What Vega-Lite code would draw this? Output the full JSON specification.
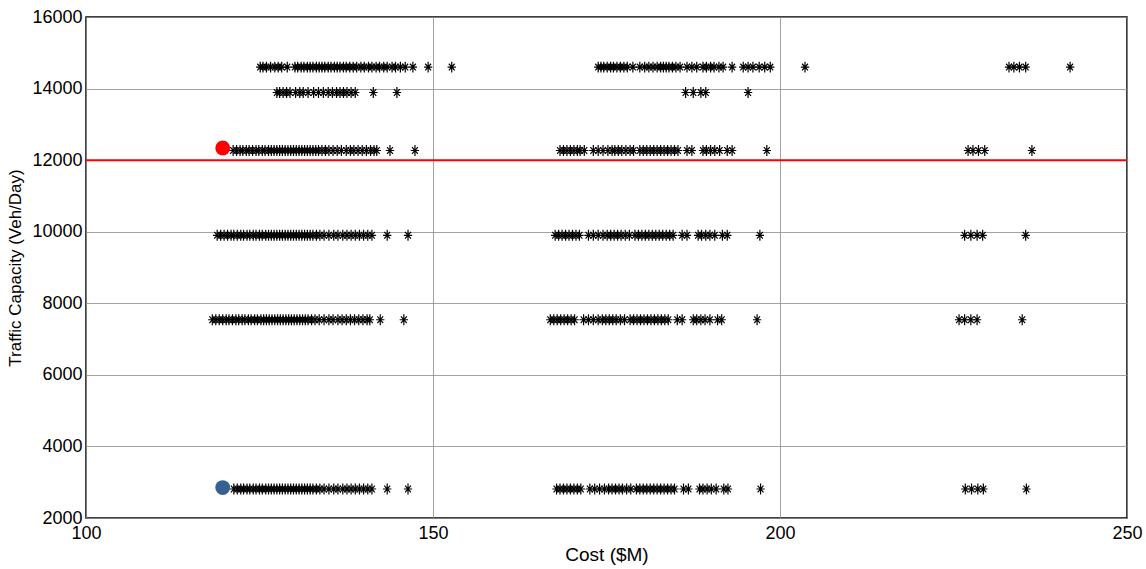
{
  "$schema": "https://vega.github.io/schema/vega-lite/v6.json",
  "width": 1041,
  "height": 501,
  "autosize": "none",
  "padding": {"left": 86, "top": 17, "right": 19, "bottom": 51},
  "background": "white",
  "config": {"view": {"stroke": "black", "strokeWidth": 1.5}, "font": "Liberation Sans, Arial, sans-serif"},
  "datasets": {
    "stars": [
      {"c":125.1,"t":14600},{"c":125.5,"t":14600},{"c":126.0,"t":14600},{"c":126.6,"t":14600},{"c":127.2,"t":14600},{"c":127.7,"t":14600},{"c":128.2,"t":14600},{"c":129.0,"t":14600},{"c":130.1,"t":14600},{"c":130.5,"t":14600},{"c":131.0,"t":14600},{"c":131.4,"t":14600},{"c":131.9,"t":14600},{"c":132.3,"t":14600},{"c":132.7,"t":14600},{"c":133.2,"t":14600},{"c":133.6,"t":14600},{"c":134.0,"t":14600},{"c":134.4,"t":14600},{"c":134.9,"t":14600},{"c":135.3,"t":14600},{"c":135.8,"t":14600},{"c":136.2,"t":14600},{"c":136.6,"t":14600},{"c":137.1,"t":14600},{"c":137.5,"t":14600},{"c":138.0,"t":14600},{"c":138.5,"t":14600},{"c":139.0,"t":14600},{"c":139.6,"t":14600},{"c":140.1,"t":14600},{"c":140.7,"t":14600},{"c":141.2,"t":14600},{"c":141.8,"t":14600},{"c":142.3,"t":14600},{"c":142.9,"t":14600},{"c":143.4,"t":14600},{"c":144.1,"t":14600},{"c":144.6,"t":14600},{"c":145.3,"t":14600},{"c":146.0,"t":14600},{"c":147.1,"t":14600},{"c":149.3,"t":14600},{"c":152.7,"t":14600},
      {"c":173.8,"t":14600},{"c":174.2,"t":14600},{"c":174.6,"t":14600},{"c":175.1,"t":14600},{"c":175.6,"t":14600},{"c":176.0,"t":14600},{"c":176.5,"t":14600},{"c":177.0,"t":14600},{"c":177.5,"t":14600},{"c":178.0,"t":14600},{"c":178.8,"t":14600},{"c":179.8,"t":14600},{"c":180.5,"t":14600},{"c":181.1,"t":14600},{"c":181.7,"t":14600},{"c":182.3,"t":14600},{"c":182.8,"t":14600},{"c":183.2,"t":14600},{"c":183.6,"t":14600},{"c":184.0,"t":14600},{"c":184.5,"t":14600},{"c":185.0,"t":14600},{"c":185.6,"t":14600},{"c":186.6,"t":14600},{"c":187.3,"t":14600},{"c":188.0,"t":14600},{"c":188.9,"t":14600},{"c":189.4,"t":14600},{"c":190.0,"t":14600},{"c":190.5,"t":14600},{"c":191.2,"t":14600},{"c":191.8,"t":14600},{"c":193.1,"t":14600},{"c":194.7,"t":14600},{"c":195.4,"t":14600},{"c":196.1,"t":14600},{"c":197.0,"t":14600},{"c":197.8,"t":14600},{"c":198.6,"t":14600},{"c":203.6,"t":14600},
      {"c":233.0,"t":14600},{"c":233.7,"t":14600},{"c":234.5,"t":14600},{"c":235.4,"t":14600},{"c":241.8,"t":14600},
      {"c":127.5,"t":13890},{"c":127.9,"t":13890},{"c":128.4,"t":13890},{"c":128.9,"t":13890},{"c":129.4,"t":13890},{"c":130.2,"t":13890},{"c":130.8,"t":13890},{"c":131.3,"t":13890},{"c":132.0,"t":13890},{"c":132.8,"t":13890},{"c":133.5,"t":13890},{"c":134.2,"t":13890},{"c":134.9,"t":13890},{"c":135.5,"t":13890},{"c":136.1,"t":13890},{"c":136.6,"t":13890},{"c":137.1,"t":13890},{"c":137.6,"t":13890},{"c":138.2,"t":13890},{"c":138.8,"t":13890},{"c":141.4,"t":13890},{"c":144.8,"t":13890},
      {"c":186.4,"t":13890},{"c":187.5,"t":13890},{"c":188.6,"t":13890},{"c":189.3,"t":13890},{"c":195.4,"t":13890},
      {"c":121.2,"t":12270},{"c":121.7,"t":12270},{"c":122.2,"t":12270},{"c":122.6,"t":12270},{"c":123.1,"t":12270},{"c":123.5,"t":12270},{"c":124.0,"t":12270},{"c":124.5,"t":12270},{"c":124.9,"t":12270},{"c":125.4,"t":12270},{"c":125.8,"t":12270},{"c":126.3,"t":12270},{"c":126.7,"t":12270},{"c":127.1,"t":12270},{"c":127.5,"t":12270},{"c":127.9,"t":12270},{"c":128.3,"t":12270},{"c":128.7,"t":12270},{"c":129.1,"t":12270},{"c":129.5,"t":12270},{"c":129.9,"t":12270},{"c":130.3,"t":12270},{"c":130.7,"t":12270},{"c":131.1,"t":12270},{"c":131.5,"t":12270},{"c":131.9,"t":12270},{"c":132.3,"t":12270},{"c":132.7,"t":12270},{"c":133.1,"t":12270},{"c":133.5,"t":12270},{"c":134.0,"t":12270},{"c":134.5,"t":12270},{"c":135.0,"t":12270},{"c":135.6,"t":12270},{"c":136.2,"t":12270},{"c":136.8,"t":12270},{"c":137.5,"t":12270},{"c":138.1,"t":12270},{"c":138.6,"t":12270},{"c":139.2,"t":12270},{"c":139.8,"t":12270},{"c":140.4,"t":12270},{"c":141.0,"t":12270},{"c":141.5,"t":12270},{"c":141.9,"t":12270},{"c":143.8,"t":12270},{"c":147.4,"t":12270},
      {"c":168.3,"t":12270},{"c":168.8,"t":12270},{"c":169.3,"t":12270},{"c":169.8,"t":12270},{"c":170.3,"t":12270},{"c":170.8,"t":12270},{"c":171.2,"t":12270},{"c":171.8,"t":12270},{"c":173.1,"t":12270},{"c":173.8,"t":12270},{"c":174.5,"t":12270},{"c":175.2,"t":12270},{"c":175.8,"t":12270},{"c":176.2,"t":12270},{"c":176.7,"t":12270},{"c":177.2,"t":12270},{"c":177.8,"t":12270},{"c":178.4,"t":12270},{"c":178.9,"t":12270},{"c":179.8,"t":12270},{"c":180.3,"t":12270},{"c":180.8,"t":12270},{"c":181.3,"t":12270},{"c":181.8,"t":12270},{"c":182.3,"t":12270},{"c":182.8,"t":12270},{"c":183.3,"t":12270},{"c":183.8,"t":12270},{"c":184.3,"t":12270},{"c":184.8,"t":12270},{"c":185.3,"t":12270},{"c":186.6,"t":12270},{"c":187.3,"t":12270},{"c":188.9,"t":12270},{"c":189.4,"t":12270},{"c":190.0,"t":12270},{"c":190.6,"t":12270},{"c":191.3,"t":12270},{"c":192.4,"t":12270},{"c":193.1,"t":12270},{"c":198.1,"t":12270},
      {"c":227.1,"t":12270},{"c":227.8,"t":12270},{"c":228.6,"t":12270},{"c":229.5,"t":12270},{"c":236.3,"t":12270},
      {"c":118.9,"t":9900},{"c":119.4,"t":9900},{"c":119.9,"t":9900},{"c":120.4,"t":9900},{"c":120.9,"t":9900},{"c":121.3,"t":9900},{"c":121.8,"t":9900},{"c":122.3,"t":9900},{"c":122.7,"t":9900},{"c":123.2,"t":9900},{"c":123.6,"t":9900},{"c":124.1,"t":9900},{"c":124.5,"t":9900},{"c":125.0,"t":9900},{"c":125.4,"t":9900},{"c":125.9,"t":9900},{"c":126.3,"t":9900},{"c":126.7,"t":9900},{"c":127.1,"t":9900},{"c":127.5,"t":9900},{"c":127.9,"t":9900},{"c":128.3,"t":9900},{"c":128.7,"t":9900},{"c":129.1,"t":9900},{"c":129.5,"t":9900},{"c":129.9,"t":9900},{"c":130.3,"t":9900},{"c":130.7,"t":9900},{"c":131.1,"t":9900},{"c":131.5,"t":9900},{"c":131.9,"t":9900},{"c":132.3,"t":9900},{"c":132.7,"t":9900},{"c":133.2,"t":9900},{"c":133.7,"t":9900},{"c":134.3,"t":9900},{"c":135.0,"t":9900},{"c":135.7,"t":9900},{"c":136.3,"t":9900},{"c":137.0,"t":9900},{"c":137.6,"t":9900},{"c":138.2,"t":9900},{"c":138.8,"t":9900},{"c":139.4,"t":9900},{"c":140.0,"t":9900},{"c":140.6,"t":9900},{"c":141.2,"t":9900},{"c":143.4,"t":9900},{"c":146.4,"t":9900},
      {"c":167.6,"t":9900},{"c":168.1,"t":9900},{"c":168.6,"t":9900},{"c":169.1,"t":9900},{"c":169.6,"t":9900},{"c":170.1,"t":9900},{"c":170.6,"t":9900},{"c":171.1,"t":9900},{"c":172.4,"t":9900},{"c":173.1,"t":9900},{"c":173.8,"t":9900},{"c":174.5,"t":9900},{"c":175.1,"t":9900},{"c":175.6,"t":9900},{"c":176.1,"t":9900},{"c":176.6,"t":9900},{"c":177.1,"t":9900},{"c":177.7,"t":9900},{"c":178.3,"t":9900},{"c":179.1,"t":9900},{"c":179.6,"t":9900},{"c":180.1,"t":9900},{"c":180.6,"t":9900},{"c":181.1,"t":9900},{"c":181.6,"t":9900},{"c":182.1,"t":9900},{"c":182.6,"t":9900},{"c":183.1,"t":9900},{"c":183.6,"t":9900},{"c":184.1,"t":9900},{"c":184.6,"t":9900},{"c":185.9,"t":9900},{"c":186.6,"t":9900},{"c":188.2,"t":9900},{"c":188.7,"t":9900},{"c":189.3,"t":9900},{"c":189.9,"t":9900},{"c":190.6,"t":9900},{"c":191.7,"t":9900},{"c":192.4,"t":9900},{"c":197.1,"t":9900},
      {"c":226.6,"t":9900},{"c":227.5,"t":9900},{"c":228.4,"t":9900},{"c":229.2,"t":9900},{"c":235.4,"t":9900},
      {"c":118.2,"t":7540},{"c":118.7,"t":7540},{"c":119.2,"t":7540},{"c":119.7,"t":7540},{"c":120.2,"t":7540},{"c":120.6,"t":7540},{"c":121.1,"t":7540},{"c":121.6,"t":7540},{"c":122.0,"t":7540},{"c":122.5,"t":7540},{"c":122.9,"t":7540},{"c":123.4,"t":7540},{"c":123.8,"t":7540},{"c":124.3,"t":7540},{"c":124.7,"t":7540},{"c":125.2,"t":7540},{"c":125.6,"t":7540},{"c":126.0,"t":7540},{"c":126.4,"t":7540},{"c":126.8,"t":7540},{"c":127.2,"t":7540},{"c":127.6,"t":7540},{"c":128.0,"t":7540},{"c":128.4,"t":7540},{"c":128.8,"t":7540},{"c":129.2,"t":7540},{"c":129.6,"t":7540},{"c":130.0,"t":7540},{"c":130.4,"t":7540},{"c":130.8,"t":7540},{"c":131.2,"t":7540},{"c":131.6,"t":7540},{"c":132.0,"t":7540},{"c":132.5,"t":7540},{"c":133.0,"t":7540},{"c":133.6,"t":7540},{"c":134.3,"t":7540},{"c":135.0,"t":7540},{"c":135.6,"t":7540},{"c":136.3,"t":7540},{"c":136.9,"t":7540},{"c":137.5,"t":7540},{"c":138.1,"t":7540},{"c":138.7,"t":7540},{"c":139.3,"t":7540},{"c":139.9,"t":7540},{"c":140.5,"t":7540},{"c":140.9,"t":7540},{"c":142.4,"t":7540},{"c":145.8,"t":7540},
      {"c":166.9,"t":7540},{"c":167.4,"t":7540},{"c":167.9,"t":7540},{"c":168.4,"t":7540},{"c":168.9,"t":7540},{"c":169.4,"t":7540},{"c":169.9,"t":7540},{"c":170.4,"t":7540},{"c":171.7,"t":7540},{"c":172.4,"t":7540},{"c":173.1,"t":7540},{"c":173.8,"t":7540},{"c":174.4,"t":7540},{"c":174.9,"t":7540},{"c":175.4,"t":7540},{"c":175.9,"t":7540},{"c":176.4,"t":7540},{"c":177.0,"t":7540},{"c":177.6,"t":7540},{"c":178.4,"t":7540},{"c":178.9,"t":7540},{"c":179.4,"t":7540},{"c":179.9,"t":7540},{"c":180.4,"t":7540},{"c":180.9,"t":7540},{"c":181.4,"t":7540},{"c":181.9,"t":7540},{"c":182.4,"t":7540},{"c":182.9,"t":7540},{"c":183.4,"t":7540},{"c":183.9,"t":7540},{"c":185.2,"t":7540},{"c":185.9,"t":7540},{"c":187.5,"t":7540},{"c":188.0,"t":7540},{"c":188.6,"t":7540},{"c":189.2,"t":7540},{"c":189.9,"t":7540},{"c":191.0,"t":7540},{"c":191.6,"t":7540},{"c":196.7,"t":7540},
      {"c":225.8,"t":7540},{"c":226.6,"t":7540},{"c":227.5,"t":7540},{"c":228.4,"t":7540},{"c":234.9,"t":7540},
      {"c":121.3,"t":2810},{"c":121.8,"t":2810},{"c":122.3,"t":2810},{"c":122.7,"t":2810},{"c":123.2,"t":2810},{"c":123.6,"t":2810},{"c":124.1,"t":2810},{"c":124.5,"t":2810},{"c":125.0,"t":2810},{"c":125.4,"t":2810},{"c":125.9,"t":2810},{"c":126.3,"t":2810},{"c":126.7,"t":2810},{"c":127.1,"t":2810},{"c":127.5,"t":2810},{"c":127.9,"t":2810},{"c":128.3,"t":2810},{"c":128.7,"t":2810},{"c":129.1,"t":2810},{"c":129.5,"t":2810},{"c":129.9,"t":2810},{"c":130.3,"t":2810},{"c":130.7,"t":2810},{"c":131.1,"t":2810},{"c":131.5,"t":2810},{"c":131.9,"t":2810},{"c":132.3,"t":2810},{"c":132.7,"t":2810},{"c":133.2,"t":2810},{"c":133.7,"t":2810},{"c":134.3,"t":2810},{"c":135.0,"t":2810},{"c":135.7,"t":2810},{"c":136.3,"t":2810},{"c":137.0,"t":2810},{"c":137.6,"t":2810},{"c":138.2,"t":2810},{"c":138.8,"t":2810},{"c":139.4,"t":2810},{"c":140.0,"t":2810},{"c":140.6,"t":2810},{"c":141.2,"t":2810},{"c":143.4,"t":2810},{"c":146.4,"t":2810},
      {"c":167.8,"t":2810},{"c":168.3,"t":2810},{"c":168.8,"t":2810},{"c":169.3,"t":2810},{"c":169.8,"t":2810},{"c":170.3,"t":2810},{"c":170.8,"t":2810},{"c":171.3,"t":2810},{"c":172.6,"t":2810},{"c":173.3,"t":2810},{"c":174.0,"t":2810},{"c":174.7,"t":2810},{"c":175.3,"t":2810},{"c":175.8,"t":2810},{"c":176.3,"t":2810},{"c":176.8,"t":2810},{"c":177.3,"t":2810},{"c":177.9,"t":2810},{"c":178.5,"t":2810},{"c":179.3,"t":2810},{"c":179.8,"t":2810},{"c":180.3,"t":2810},{"c":180.8,"t":2810},{"c":181.3,"t":2810},{"c":181.8,"t":2810},{"c":182.3,"t":2810},{"c":182.8,"t":2810},{"c":183.3,"t":2810},{"c":183.8,"t":2810},{"c":184.3,"t":2810},{"c":184.8,"t":2810},{"c":186.1,"t":2810},{"c":186.8,"t":2810},{"c":188.4,"t":2810},{"c":188.9,"t":2810},{"c":189.5,"t":2810},{"c":190.1,"t":2810},{"c":190.8,"t":2810},{"c":191.9,"t":2810},{"c":192.5,"t":2810},{"c":197.2,"t":2810},
      {"c":226.7,"t":2810},{"c":227.6,"t":2810},{"c":228.5,"t":2810},{"c":229.3,"t":2810},{"c":235.5,"t":2810}
    ],
    "opt": [
      {"c":119.7,"t":12340,"k":"red"},
      {"c":119.7,"t":2850,"k":"blue"}
    ],
    "lim": [{"t":12000}]
  },
  "layer": [
    {
      "data": {"name": "stars"},
      "mark": {"type": "point", "shape": "M-1,0L1,0M0,-1.3L0,1.3M-0.7,-0.8L0.7,0.8M-0.7,0.8L0.7,-0.8", "stroke": "black", "strokeWidth": 1.2, "size": 70, "filled": false, "opacity": 1},
      "encoding": {
        "x": {"field": "c", "type": "quantitative", "scale": {"domain": [100, 250], "nice": false, "zero": false},
          "axis": {"title": "Cost ($M)", "values": [100, 150, 200, 250], "grid": true, "gridColor": "#8c8c8c", "gridWidth": 0.8, "ticks": false, "domain": false,
            "labelFont": "Liberation Sans, Arial, sans-serif", "labelFontSize": 18, "labelColor": "black", "labelPadding": 6, "labelFlush": false,
            "titleFont": "Liberation Sans, Arial, sans-serif", "titleFontSize": 19, "titleFontWeight": "normal", "titleColor": "black", "titlePadding": 3}},
        "y": {"field": "t", "type": "quantitative", "scale": {"domain": [2000, 16000], "nice": false, "zero": false},
          "axis": {"title": "Traffic Capacity (Veh/Day)", "values": [2000, 4000, 6000, 8000, 10000, 12000, 14000, 16000], "grid": true, "gridColor": "#8c8c8c", "gridWidth": 0.8, "ticks": false, "domain": false, "format": "d",
            "labelFont": "Liberation Sans, Arial, sans-serif", "labelFontSize": 18, "labelColor": "black", "labelPadding": 4, "labelFlush": false,
            "titleFont": "Liberation Sans, Arial, sans-serif", "titleFontSize": 17, "titleFontWeight": "normal", "titleColor": "black", "titlePadding": 7}}
      }
    },
    {
      "data": {"name": "lim"},
      "mark": {"type": "rule", "color": "#ff0000", "strokeWidth": 2},
      "encoding": {"y": {"field": "t", "type": "quantitative"}}
    },
    {
      "data": {"name": "opt"},
      "mark": {"type": "circle", "size": 220, "opacity": 1},
      "encoding": {
        "x": {"field": "c", "type": "quantitative"},
        "y": {"field": "t", "type": "quantitative"},
        "color": {"field": "k", "type": "nominal", "scale": {"domain": ["red", "blue"], "range": ["#ff0000", "#35608f"]}, "legend": null}
      }
    }
  ]
}
